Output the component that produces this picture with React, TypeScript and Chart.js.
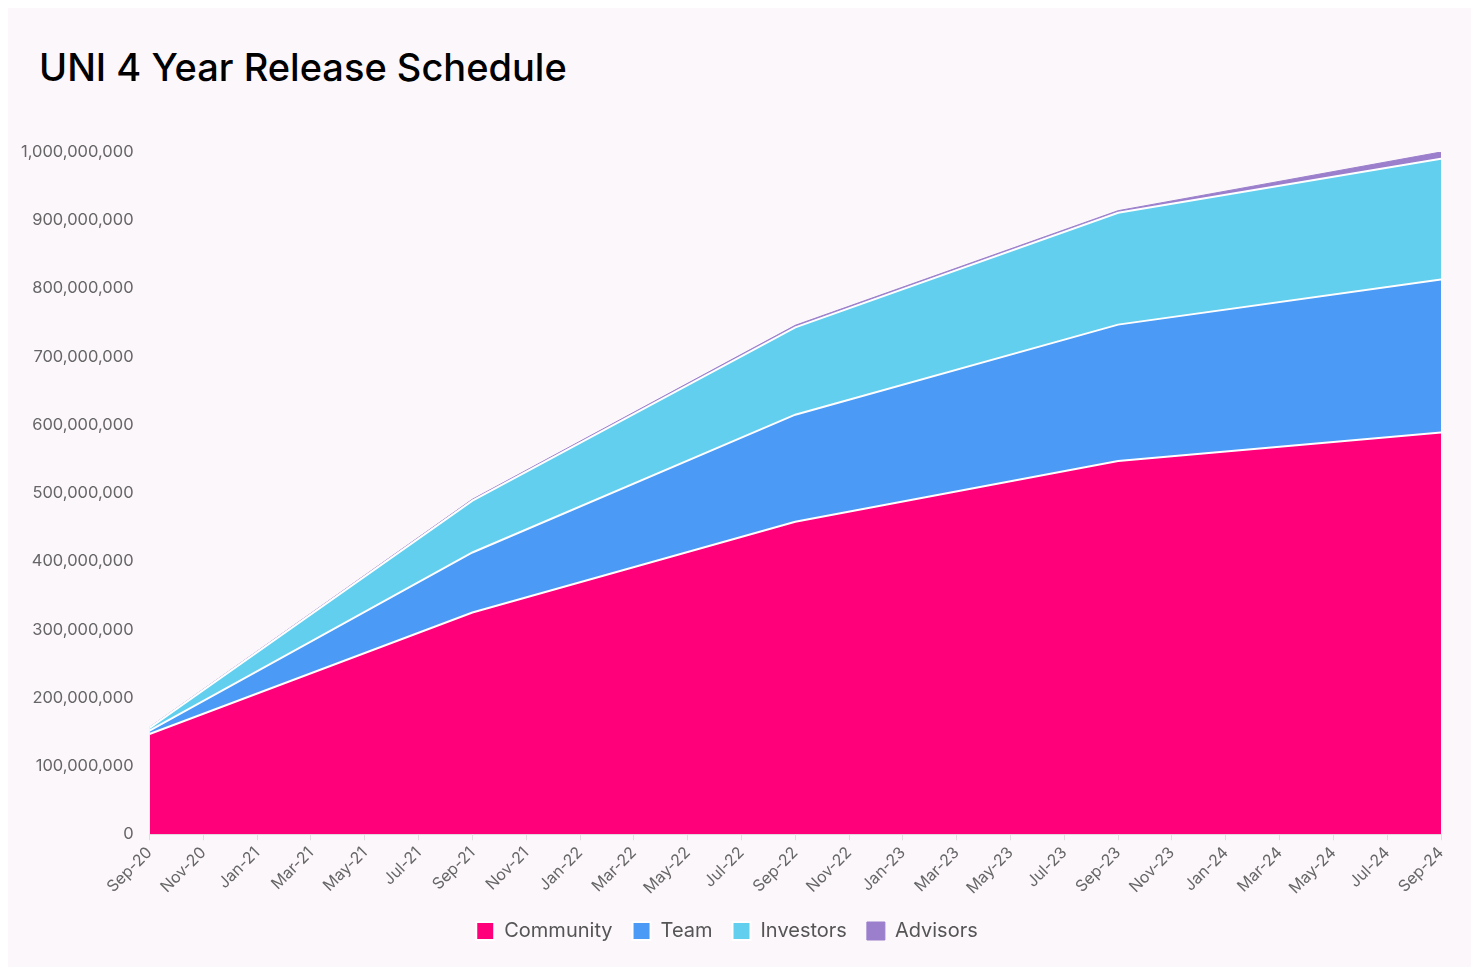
import React, { useEffect, useRef } from "react";
import { Chart, registerables } from "chart.js";

Chart.register(...registerables);

// Month index (0 = Sep-20) of the yearly release points
const monthIndex = [0, 12, 24, 36, 48];
const tickLabels = [
  "Sep-20", "Nov-20", "Jan-21", "Mar-21", "May-21", "Jul-21",
  "Sep-21", "Nov-21", "Jan-22", "Mar-22", "May-22", "Jul-22",
  "Sep-22", "Nov-22", "Jan-23", "Mar-23", "May-23", "Jul-23",
  "Sep-23", "Nov-23", "Jan-24", "Mar-24", "May-24", "Jul-24", "Sep-24",
];
const community = [147e6, 325e6, 458e6, 547e6, 589e6];
const team = [5e6, 88e6, 157e6, 200e6, 224e6];
const investors = [4e6, 76e6, 128e6, 164e6, 177e6];
const advisors = [1e6, 2e6, 3e6, 3e6, 10e6];

const seriesNames = ["Community", "Team", "Investors", "Advisors"];
const seriesColors = ["#ff007a", "#4a9af6", "#63cfee", "#9b7fcc"];

export default function App() {
  const ref = useRef<HTMLCanvasElement | null>(null);
  useEffect(() => {
    if (!ref.current) return;
    const all = [community, team, investors, advisors];
    const chart = new Chart(ref.current, {
      type: "line",
      data: {
        datasets: all.map((vals, i) => ({
          label: seriesNames[i],
          data: vals.map((v, j) => ({ x: monthIndex[j], y: v })),
          backgroundColor: seriesColors[i],
          borderColor: i === 3 ? seriesColors[i] : "#ffffff",
          borderWidth: i === 3 ? 1 : 2,
          fill: i === 0 ? "origin" : "-1",
          pointRadius: 0,
          tension: 0,
        })),
      },
      options: {
        animation: false,
        responsive: true,
        maintainAspectRatio: false,
        layout: { padding: { top: 144, left: 5, right: 30, bottom: 16 } },
        plugins: {
          legend: {
            position: "bottom",
            labels: {
              boxWidth: 18,
              boxHeight: 18,
              padding: 20,
              color: "#555",
              font: { family: "Inter", size: 20 },
            },
          },
          tooltip: { enabled: false },
        },
        scales: {
          x: {
            type: "linear",
            min: 0,
            max: 48,
            grid: { drawOnChartArea: false, drawTicks: true, tickLength: 6, color: "#e2dde1" },
            border: { display: true, color: "#e2dde1" },
            ticks: {
              stepSize: 2,
              autoSkip: false,
              maxRotation: 45,
              minRotation: 45,
              color: "#666",
              font: { family: "Inter", size: 16 },
              callback: (v: any) => tickLabels[Math.round(Number(v) / 2)] ?? "",
            },
          },
          y: {
            stacked: true,
            min: 0,
            max: 1e9,
            grid: { display: false },
            border: { display: false },
            ticks: {
              stepSize: 1e8,
              padding: 8,
              color: "#666",
              font: { family: "Inter", size: 16.5 },
              callback: (v: any) => Number(v).toLocaleString("en-US"),
            },
          },
        },
      },
    });
    return () => chart.destroy();
  }, []);

  return (
    <div
      style={{
        position: "relative",
        width: 1463,
        height: 959,
        background: "#fcf7fb",
        fontFamily: "Inter, sans-serif",
      }}
    >
      <div
        style={{
          position: "absolute",
          left: 31,
          top: 37,
          fontSize: 38,
          fontWeight: 500,
          color: "#000",
          lineHeight: "44px",
        }}
      >
        UNI 4 Year Release Schedule
      </div>
      <canvas ref={ref} style={{ position: "absolute", left: 0, top: 0 }} />
    </div>
  );
}
